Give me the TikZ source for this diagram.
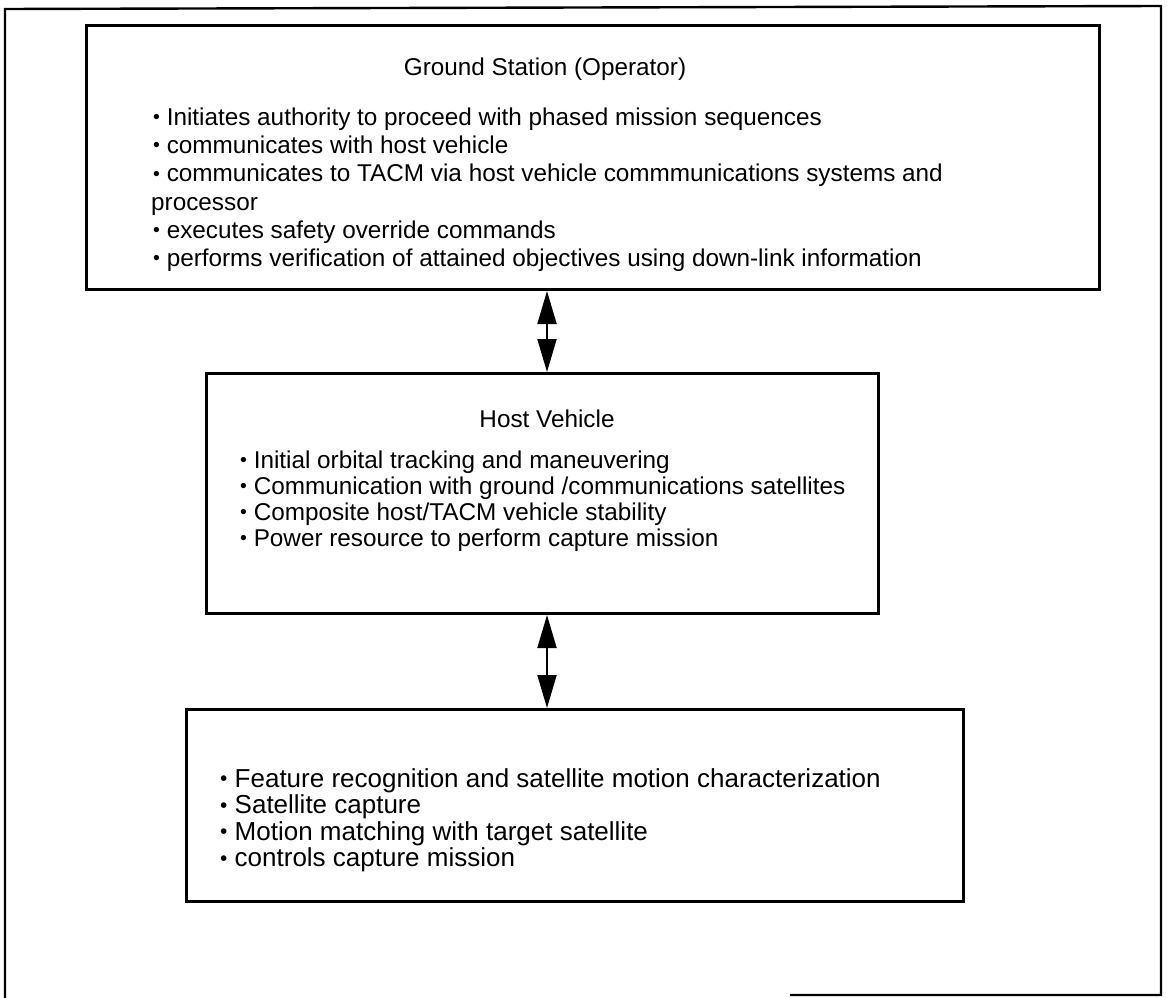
\documentclass[tikz,border=0pt]{standalone}
\usepackage{fontspec}
\setmainfont{Liberation Sans}
\usetikzlibrary{arrows.meta}

\tikzset{
  frame/.style={line width=2.4pt, line join=miter},
  block/.style={draw, line width=3pt, anchor=north west, inner sep=0pt},
  head/.style={anchor=base, inner sep=0pt, font=\fontsize{24.3}{28}\selectfont},
  item/.style={anchor=base west, inner sep=0pt, font=\fontsize{24.3}{28}\selectfont},
  itemb/.style={item, font=\fontsize{26}{30}\selectfont},
  link/.style={line width=2pt, {Triangle[length=33pt,width=19pt]}-{Triangle[length=33pt,width=19pt]}},
}
\newcommand{\bul}{\raisebox{0.1ex}{\scalebox{0.8}{\textbullet}}\ }

\begin{document}
\begin{tikzpicture}[x=1pt,y=-1pt]
  \useasboundingbox (0,0) rectangle (1167,998);

  % outer frame (bottom edge only partly visible)
  \coordinate (fa) at (790,995);
  \coordinate (fb) at (1161,995);
  \coordinate (fc) at (1161,6);
  \coordinate (fd) at (5,9);
  \coordinate (fe) at (5,998);
  \draw[frame] (fa) -- (fb) -- (fc) -- (fd) -- (fe);

  % ground station block
  \node[block, minimum width=1013pt, minimum height=264pt] (gs) at (85,24) {};
  \node[head] (gstitle) at (545,75) {Ground Station (Operator)};
  \node[item] (g1) at (153,125) {\bul Initiates authority to proceed with phased mission sequences};
  \node[item] (g2) at (153,153) {\bul communicates with host vehicle};
  \node[item] (g3) at (153,181.5) {\bul communicates to TACM via host vehicle commmunications systems and};
  \node[item] (g4) at (151,210) {processor};
  \node[item] (g5) at (153,238) {\bul executes safety override commands};
  \node[item] (g6) at (153,266) {\bul performs verification of attained objectives using down-link information};

  % host vehicle block
  \node[block, minimum width=672pt, minimum height=240pt] (hv) at (205,372) {};
  \node[head] (hvtitle) at (547,427) {Host Vehicle};
  \node[item] (h1) at (240,468) {\bul Initial orbital tracking and maneuvering};
  \node[item] (h2) at (240,494) {\bul Communication with ground /communications satellites};
  \node[item] (h3) at (240,520) {\bul Composite host/TACM vehicle stability};
  \node[item] (h4) at (240,546) {\bul Power resource to perform capture mission};

  % TACM block
  \node[block, minimum width=777pt, minimum height=192pt] (tc) at (185,708) {};
  \node[itemb] (t1) at (220,787) {\bul Feature recognition and satellite motion characterization};
  \node[itemb] (t2) at (220,813.5) {\bul Satellite capture};
  \node[itemb] (t3) at (220,840) {\bul Motion matching with target satellite};
  \node[itemb] (t4) at (220,866.5) {\bul controls capture mission};

  % two-way links between the blocks
  \draw[link] (gs.south -| hvtitle) -- (hv.north -| hvtitle);
  \draw[link] (hv.south -| hvtitle) -- (tc.north -| hvtitle);
\end{tikzpicture}
\end{document}
